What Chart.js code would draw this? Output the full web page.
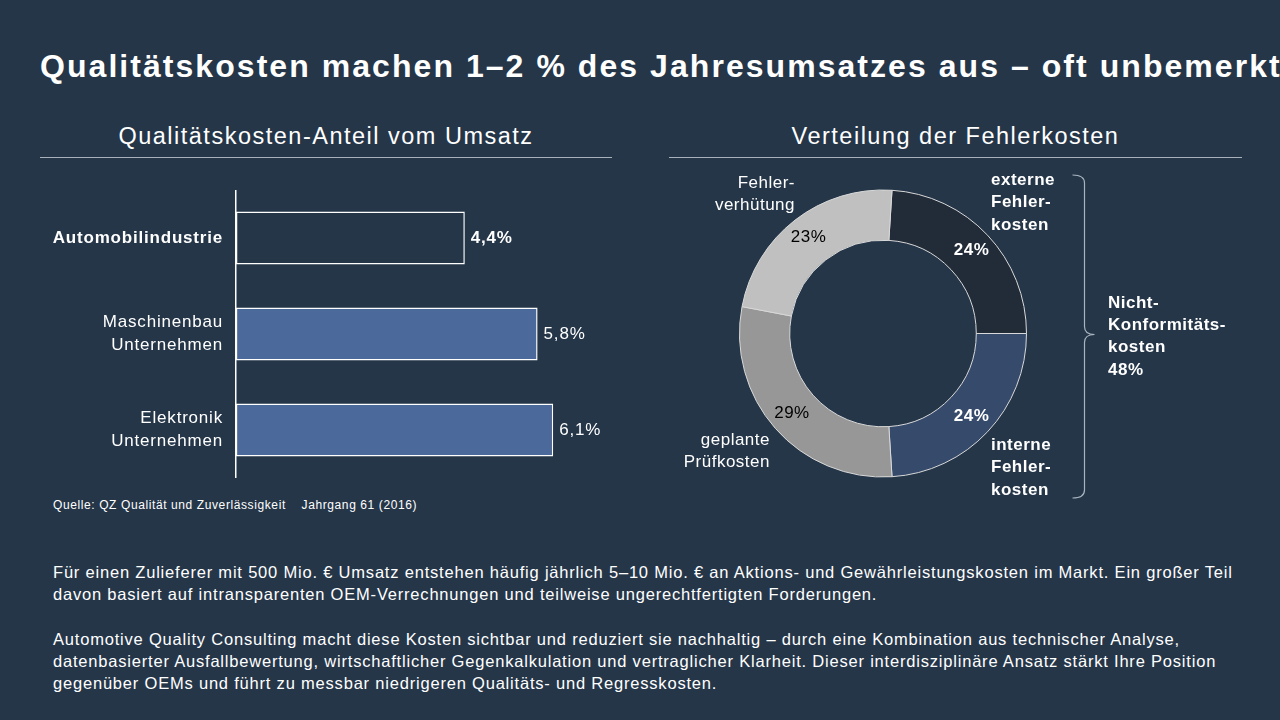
<!DOCTYPE html>
<html lang="de">
<head>
<meta charset="utf-8">
<script src="https://cdn.jsdelivr.net/npm/chart.js@4/dist/chart.umd.min.js"></script>
<style>
  html, body { margin: 0; padding: 0; }
  body {
    width: 1280px; height: 720px; overflow: hidden; position: relative;
    background: #253649; color: #fff;
    font-family: 'Liberation Sans', Arial, sans-serif;
  }
  .abs { position: absolute; white-space: nowrap; }
  #title { left: 40px; top: 46px; font-size: 32px; font-weight: bold; line-height: 40px; letter-spacing: 2.05px; }
  .sub { top: 120px; font-size: 23.5px; line-height: 32px; text-align: center; letter-spacing: 1.5px; }
  .rule { height: 1px; background: #a9b1ba; top: 157px; }
  #source { left: 53px; top: 497px; font-size: 12px; line-height: 16px; white-space: pre; letter-spacing: 0.6px; }
  #text { left: 53px; top: 561px; font-size: 16.5px; line-height: 22px; letter-spacing: 0.8px; }
  #text p { margin: 0 0 23px 0; }
  #barWrap { left: 40px; top: 190px; width: 560px; height: 288px; }
  #pieWrap { left: 669px; top: 165px; width: 611px; height: 345px; }
</style>
</head>
<body>
<div id="title" class="abs">Qualitätskosten machen 1–2 % des Jahresumsatzes aus – oft unbemerkt</div>
<div class="abs sub" style="left:40px;width:572px;">Qualitätskosten-Anteil vom Umsatz</div>
<div class="abs rule" style="left:40px;width:572px;"></div>
<div class="abs sub" style="left:669px;width:573px;">Verteilung der Fehlerkosten</div>
<div class="abs rule" style="left:669px;width:573px;"></div>

<div id="barWrap" class="abs"><canvas id="barChart"></canvas></div>
<div id="pieWrap" class="abs"><canvas id="pieChart"></canvas></div>

<div id="source" class="abs">Quelle: QZ Qualität und Zuverlässigkeit    Jahrgang 61 (2016)</div>
<div id="text" class="abs">
  <p>Für einen Zulieferer mit 500 Mio. € Umsatz entstehen häufig jährlich 5–10 Mio. € an Aktions- und Gewährleistungskosten im Markt. Ein großer Teil<br>davon basiert auf intransparenten OEM-Verrechnungen und teilweise ungerechtfertigten Forderungen.</p>
  <p>Automotive Quality Consulting macht diese Kosten sichtbar und reduziert sie nachhaltig – durch eine Kombination aus technischer Analyse,<br>datenbasierter Ausfallbewertung, wirtschaftlicher Gegenkalkulation und vertraglicher Klarheit. Dieser interdisziplinäre Ansatz stärkt Ihre Position<br>gegenüber OEMs und führt zu messbar niedrigeren Qualitäts- und Regresskosten.</p>
</div>

<script>
const FONT = "'Liberation Sans', Arial, sans-serif";

// left chart: share of quality costs in revenue (%)
const branchLabels = [['Automobilindustrie'], ['Maschinenbau', 'Unternehmen'], ['Elektronik', 'Unternehmen']];
const branchValues = [4.4, 5.8, 6.1];
const xMax = 7;

// right chart: distribution of failure costs (%)
const costLabels = [['externe', 'Fehler-', 'kosten'], ['interne', 'Fehler-', 'kosten'], ['geplante', 'Prüfkosten'], ['Fehler-', 'verhütung']];
const costValues = [24, 24, 29, 23];
const groupLabel = ['Nicht-', 'Konformitäts-', 'kosten', '48%'];

const BG = '#253649';
const barColors = [BG, '#4b6a9b', '#4b6a9b'];
const pieColors = ['#222b38', '#364b6c', '#979797', '#c0c0c0'];

function fmtPct(v) {
  return v.toFixed(1).replace('.', ',') + '%';
}

// canvas resets letterSpacing on resize, so set it before each draw
const spacing = (px) => ({
  id: 'spacing',
  beforeDraw(chart) { chart.ctx.letterSpacing = px + 'px'; }
});

const barValueLabels = {
  id: 'barValueLabels',
  afterDatasetsDraw(chart) {
    const ctx = chart.ctx;
    const meta = chart.getDatasetMeta(0);
    ctx.save();
    ctx.fillStyle = '#fff';
    ctx.textBaseline = 'middle';
    ctx.textAlign = 'left';
    meta.data.forEach((bar, i) => {
      ctx.font = (i === 0 ? 'bold ' : '') + '17px ' + FONT;
      ctx.fillText(fmtPct(branchValues[i]), bar.x + 6, bar.y);
    });
    ctx.restore();
  }
};

new Chart(document.getElementById('barChart'), {
  type: 'bar',
  data: {
    labels: branchLabels,
    datasets: [{
      data: branchValues,
      backgroundColor: barColors,
      borderColor: '#ffffff',
      borderWidth: 1.5,
      borderSkipped: false,
      categoryPercentage: 1,
      barPercentage: 0.55
    }]
  },
  options: {
    indexAxis: 'y',
    responsive: true,
    maintainAspectRatio: false,
    animation: false,
    layout: { padding: 0 },
    plugins: { legend: { display: false }, tooltip: { enabled: false } },
    scales: {
      x: { display: false, min: 0, max: xMax },
      y: {
        grid: { display: false },
        border: { display: true, color: '#ffffff', width: 1.5 },
        afterFit(scale) {
          scale.width = 196;
          scale.paddingTop = 0;
          scale.paddingBottom = 0;
        },
        ticks: {
          color: '#ffffff',
          padding: 5,
          font: (c) => ({ family: FONT, size: 17, lineHeight: 1.35, weight: c.index === 0 ? 'bold' : 'normal' })
        }
      }
    }
  },
  plugins: [spacing(0.8), barValueLabels]
});

const pieLabels = {
  id: 'pieLabels',
  afterDraw(chart) {
    const ctx = chart.ctx;
    const arcs = chart.getDatasetMeta(0).data;
    if (!arcs.length) return;
    const cx = arcs[0].x, cy = arcs[0].y;
    const R = arcs[0].outerRadius;
    ctx.save();
    ctx.textBaseline = 'middle';

    // percentages inside the ring
    arcs.forEach((arc, i) => {
      const mid = (arc.startAngle + arc.endAngle) / 2;
      const r = (arc.innerRadius + arc.outerRadius) / 2 + 3;
      const dark = i < 2;
      ctx.font = (dark ? 'bold ' : '') + '17px ' + FONT;
      ctx.fillStyle = dark ? '#ffffff' : '#000000';
      ctx.textAlign = 'center';
      ctx.fillText(costValues[i] + '%', cx + Math.cos(mid) * r, cy + Math.sin(mid) * r);
    });

    // category names around the ring
    const place = [
      { dx: 108, dy: -153.5, align: 'left', bold: true },
      { dx: 108, dy: 111.5, align: 'left', bold: true },
      { dx: -113, dy: 106.5, align: 'right', bold: false },
      { dx: -88, dy: -150.5, align: 'right', bold: false }
    ];
    costLabels.forEach((lines, i) => {
      const p = place[i];
      ctx.font = (p.bold ? 'bold ' : '') + '17px ' + FONT;
      ctx.fillStyle = '#ffffff';
      ctx.textAlign = p.align;
      lines.forEach((t, k) => ctx.fillText(t, cx + p.dx, cy + p.dy + k * 22.5));
    });

    // bracket for the non-conformity costs
    const bx = cx + R + 58;
    const top = cy - R - 15, bot = cy + R + 21, midY = cy + 1;
    ctx.strokeStyle = '#a9b4c0';
    ctx.lineWidth = 1.2;
    ctx.beginPath();
    ctx.moveTo(bx - 12, top);
    ctx.quadraticCurveTo(bx, top, bx, top + 8);
    ctx.lineTo(bx, midY - 8);
    ctx.quadraticCurveTo(bx, midY, bx + 10, midY);
    ctx.quadraticCurveTo(bx, midY, bx, midY + 8);
    ctx.lineTo(bx, bot - 8);
    ctx.quadraticCurveTo(bx, bot, bx - 12, bot);
    ctx.stroke();

    ctx.font = 'bold 17px ' + FONT;
    ctx.textAlign = 'left';
    groupLabel.forEach((t, k) => ctx.fillText(t, cx + 225, cy - 30.5 + k * 22.3));
    ctx.restore();
  }
};

new Chart(document.getElementById('pieChart'), {
  type: 'doughnut',
  data: {
    labels: costLabels.map(l => l.join(' ')),
    datasets: [{
      data: costValues,
      backgroundColor: pieColors,
      borderColor: '#d9d9d9',
      borderWidth: 1
    }]
  },
  options: {
    responsive: true,
    maintainAspectRatio: false,
    animation: false,
    rotation: 3.6,
    cutout: '65%',
    layout: { padding: { left: 70, top: 24.5, right: 253, bottom: 32.5 } },
    plugins: { legend: { display: false }, tooltip: { enabled: false } }
  },
  plugins: [spacing(0.5), pieLabels]
});
</script>
</body>
</html>
